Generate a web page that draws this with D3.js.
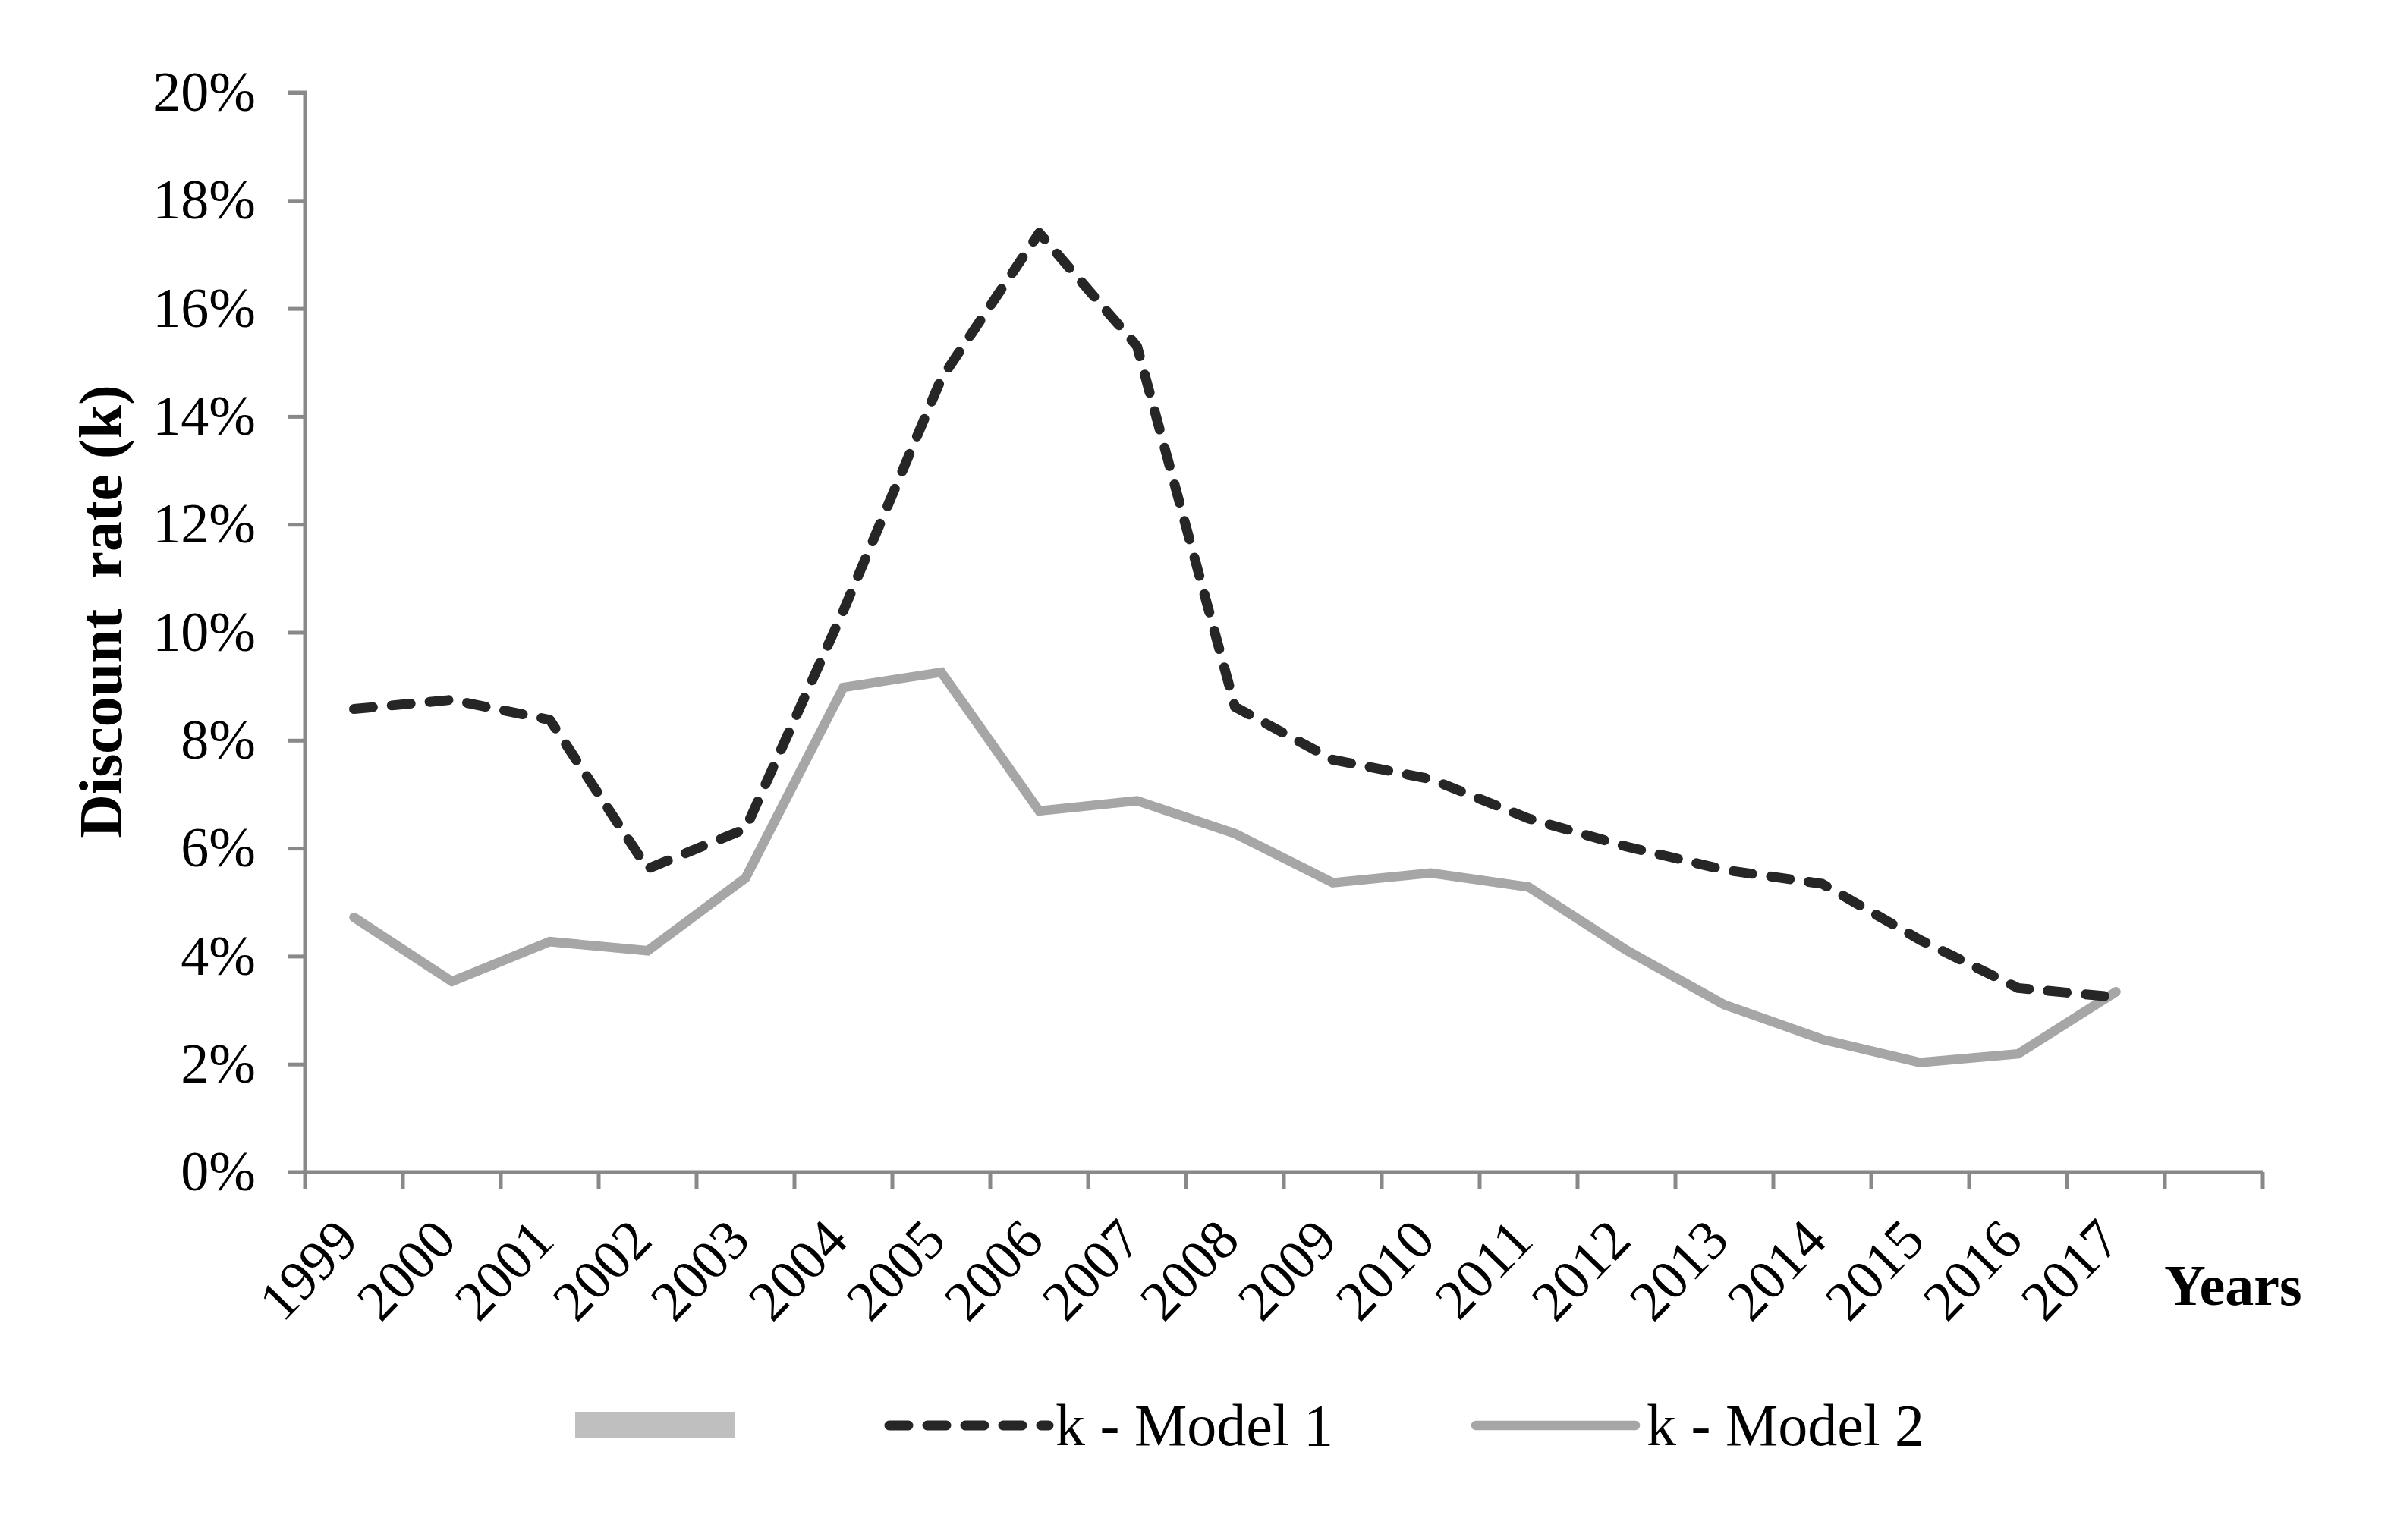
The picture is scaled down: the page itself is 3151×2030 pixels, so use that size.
<!DOCTYPE html>
<html>
<head>
<meta charset="utf-8">
<script src="https://cdn.jsdelivr.net/npm/d3@7"></script>
<style>
  html, body { margin: 0; padding: 0; background: #fff; }
  svg { display: block; }
  text { font-family: "Liberation Serif", "Times New Roman", serif; fill: #000; }
</style>
</head>
<body>
<svg id="chart" width="3151" height="2030"></svg>
<script>
const years = ["1999","2000","2001","2002","2003","2004","2005","2006","2007","2008",
               "2009","2010","2011","2012","2013","2014","2015","2016","2017"];
const categories = years.concat([""]); // chart has one empty trailing category slot
const model1 = [8.58, 8.75, 8.38, 5.62, 6.36, 10.4, 14.7, 17.4, 15.3, 8.62,
                7.64, 7.28, 6.55, 6.03, 5.6, 5.34, 4.3, 3.41, 3.24];
const model2 = [4.72, 3.53, 4.27, 4.1, 5.45, 8.98, 9.26, 6.69, 6.88, 6.27,
                5.36, 5.54, 5.28, 4.11, 3.1, 2.46, 2.03, 2.19, 3.34];
const yTicks = [0, 2, 4, 6, 8, 10, 12, 14, 16, 18, 20];
const seriesNames = ["", "k - Model 1", "k - Model 2"];

const svg = d3.select("#chart");
const pL = 402, pR = 2982, pT = 122, pB = 1545;

const x = d3.scaleBand().domain(categories).range([pL, pR]).paddingInner(0).paddingOuter(0);
const y = d3.scaleLinear().domain([0, 20]).range([pB, pT]);

const axisColor = "#898989";

// Y axis
const yAxis = d3.axisLeft(y).tickValues(yTicks).tickSize(22).tickPadding(43)
  .tickFormat(d => d + "%");
const gy = svg.append("g").attr("transform", `translate(${pL},0)`).call(yAxis);
gy.select(".domain").attr("stroke", axisColor).attr("stroke-width", 5)
  .attr("d", `M-22,${pT}H0V${pB}`);
gy.selectAll(".tick line").attr("stroke", axisColor).attr("stroke-width", 5);
gy.selectAll(".tick text").attr("font-size", 74)
  .attr("font-family", "Liberation Serif").attr("fill", "#000");

// X axis (ticks between categories)
const boundaries = d3.range(categories.length + 1).map(i => pL + i * x.step());
const gx = svg.append("g");
gx.append("line").attr("x1", pL - 22).attr("x2", pR).attr("y1", pB).attr("y2", pB)
  .attr("stroke", axisColor).attr("stroke-width", 5);
gx.selectAll("line.tk").data(boundaries).join("line").attr("class", "tk")
  .attr("x1", d => d).attr("x2", d => d).attr("y1", pB).attr("y2", pB + 22)
  .attr("stroke", axisColor).attr("stroke-width", 5);
gx.selectAll("text.lbl").data(years).join("text").attr("class", "lbl")
  .attr("transform", d => `translate(${x(d) + x.bandwidth() / 2 + 9},${pB + 93}) rotate(-46)`)
  .attr("text-anchor", "end").attr("font-size", 74).text(d => d);

// Lines
const line1 = d3.line().x((d, i) => x(years[i]) + x.bandwidth() / 2).y(d => y(d));
svg.append("path").datum(model2).attr("d", line1)
  .attr("fill", "none").attr("stroke", "#a6a6a6").attr("stroke-width", 12.5)
  .attr("stroke-linejoin", "miter").attr("stroke-linecap", "round");
svg.append("path").datum(model1).attr("d", line1)
  .attr("fill", "none").attr("stroke", "#262626").attr("stroke-width", 13)
  .attr("stroke-dasharray", "25 25")
  .attr("stroke-linejoin", "round").attr("stroke-linecap", "round");

// Axis titles
svg.append("text").attr("transform", "translate(160,806) rotate(-90)")
  .attr("text-anchor", "middle").attr("font-size", 80).attr("font-weight", "bold")
  .style("white-space", "pre").text("Discount  rate (k)");
svg.append("text").attr("x", 2852).attr("y", 1720)
  .attr("font-size", 76).attr("font-weight", "bold").text("Years");

// Legend
const lg = svg.append("g");
lg.append("rect").attr("x", 758).attr("y", 1861).attr("width", 211).attr("height", 34).attr("fill", "#bfbfbf");
lg.append("line").attr("x1", 1172).attr("x2", 1382).attr("y1", 1879).attr("y2", 1879)
  .attr("stroke", "#262626").attr("stroke-width", 13).attr("stroke-dasharray", "25 25")
  .attr("stroke-linecap", "round");
lg.append("text").attr("x", 1391).attr("y", 1905).attr("font-size", 78).text(seriesNames[1]);
lg.append("line").attr("x1", 1945).attr("x2", 2155).attr("y1", 1879).attr("y2", 1879)
  .attr("stroke", "#a6a6a6").attr("stroke-width", 12.5).attr("stroke-linecap", "round");
lg.append("text").attr("x", 2170).attr("y", 1905).attr("font-size", 78).text(seriesNames[2]);
</script>
</body>
</html>
